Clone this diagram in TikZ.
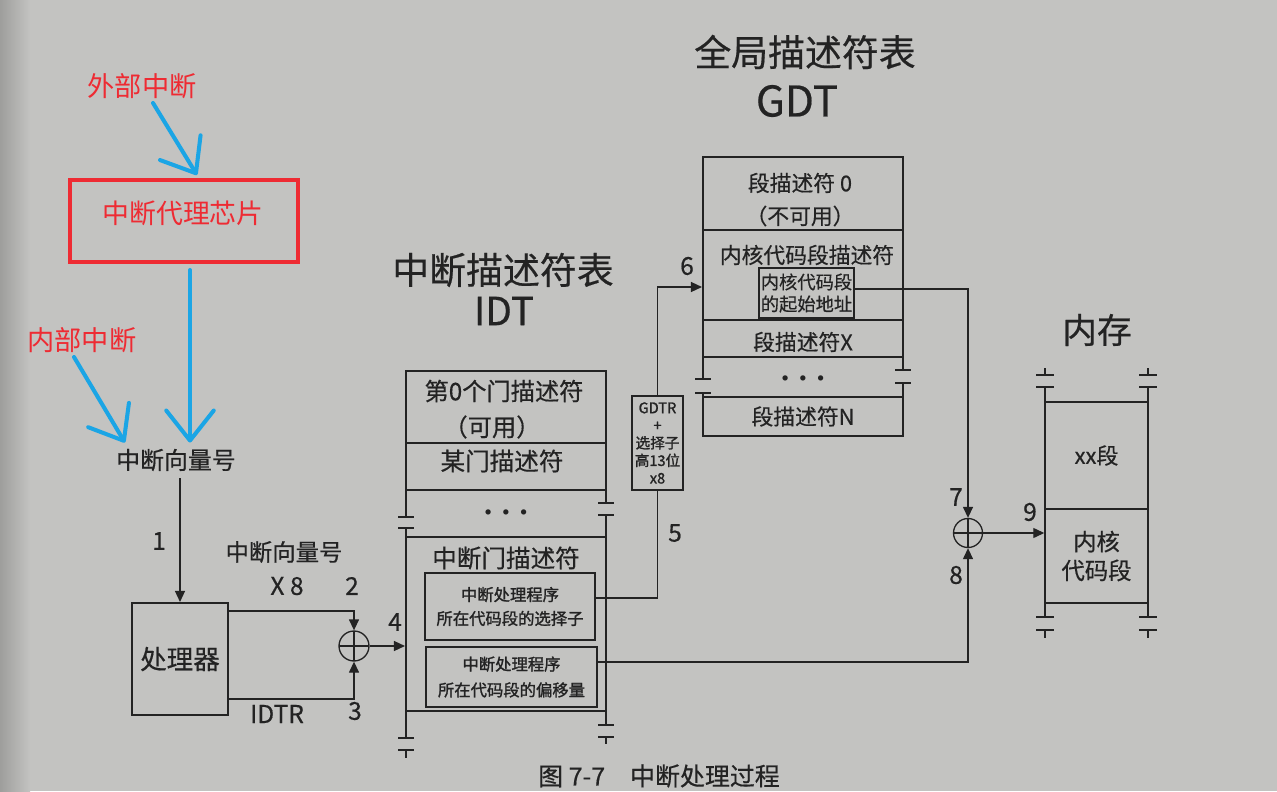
\documentclass[tikz,border=0pt]{standalone}
\usepackage{fontspec}
\setmainfont{Noto Sans CJK SC}[FakeBold=0.5]
\newfontfamily\plain{Noto Sans CJK SC}
\newfontfamily\heavy{Noto Sans CJK SC}[FakeBold=1.4]
\usetikzlibrary{arrows.meta}

\newcommand\fsz[1]{\fontsize{#1}{#1}\selectfont}

\definecolor{paper}{HTML}{C3C3C1}
\definecolor{paperedge}{HTML}{9E9E9C}
\definecolor{ink}{HTML}{232323}
\definecolor{mark}{HTML}{EE2B33}
\definecolor{pen}{HTML}{1BA5E5}

\tikzset{
  txt/.style={inner sep=0pt, text=ink, font=\fsz{#1}},
  redtxt/.style={inner sep=0pt, text=mark, font=\fsz{#1}\plain},
  tabline/.style={draw=ink, line width=1.2pt},
  memline/.style={draw=ink, line width=0.85pt},
  cell/.style={draw=ink, line width=1.2pt, inner sep=0pt, text=ink},
  subcell/.style={draw=ink, line width=0.85pt, inner sep=0pt, text=ink, align=center},
  wire/.style={draw=ink, line width=0.75pt},
  flow/.style={wire, -{Triangle[length=0.22cm,width=0.2cm]}},
  penarrow/.style={draw=pen, line width=2.3pt, line cap=round,
    -{Straight Barb[length=0.6cm,width=0.95cm,round]}},
  adder/.style={circle, draw=ink, line width=0.75pt, minimum size=#1, inner sep=0pt,
    path picture={\draw[ink, line width=0.75pt]
      (path picture bounding box.north) -- (path picture bounding box.south)
      (path picture bounding box.west) -- (path picture bounding box.east);}},
}

\begin{document}
\begin{tikzpicture}[x=0.02cm, y=-0.02cm]
\useasboundingbox (0,0) rectangle (1277,791);
\fill[paper] (0,0) rectangle (1277,791);
\shade[left color=paperedge, right color=paper] (0,0) rectangle (30,791);

% ---------- interrupt sources (hand annotations) ----------
\node[redtxt=15.5] (ext) at (142,86) {外部中断};
\node[draw=mark, line width=2.3pt, minimum width=4.56cm, minimum height=1.64cm, inner sep=0pt] (agent) at (184,221) {};
\node[redtxt=15.3] (agentlbl) at (183,213) {中断代理芯片};
\node[redtxt=15.5] (int) at (82,340) {内部中断};
\node[txt=13.6, inner ysep=4pt] (vec) at (176,460) {中断向量号};

\draw[penarrow] ([shift={(11,4)}]ext.south) -- ([shift={(13,-3)}]agent.north);
\draw[penarrow] ([shift={(6,6)}]agent.south) -- ([shift={(14,1)}]vec.north);
\draw[penarrow] ([shift={(-8,4)}]int.south) -- ([shift={(9,1)}]vec.north west);

% ---------- processor and address adder ----------
\node[cell, minimum width=1.92cm, minimum height=2.24cm, font=\fsz{15.1}] (proc) at (180,659) {处理器};
\draw[flow] (proc.north |- vec.south) -- (proc.north);
\node[txt=14] (l1) at (159,541) {1};

\node[adder=0.6cm] (add1) at (354,646) {};
\draw[flow] ([shift={(0,9)}]proc.north east) -| (add1.north);
\draw[flow] ([shift={(0,-17)}]proc.south east) -| (add1.south);
\node[txt=13.3] (vecx) at (284,552) {中断向量号};
\node[txt=14] (times8) at (287,586) {X 8};
\node[txt=14] (l2) at (352,586) {2};
\node[txt=14] (idtr) at (277,714) {IDTR};
\node[txt=14] (l3) at (355,711) {3};
\node[txt=14] (l4) at (395,622) {4};

% ---------- interrupt descriptor table ----------
\node[txt=21] (idttitle) at (503,270) {中断描述符表};
\node[txt=22] (idtname) at (504,311) {IDT};
\draw[tabline] (406,517) -- (406,371) -- (606,371) -- (606,503);
\draw[tabline] (406,443) -- (606,443) (406,490) -- (606,490);
\draw[tabline] (398,517) -- (414,517) (398,528) -- (414,528) (406,528) -- (406,537);
\draw[tabline] (598,503) -- (614,503) (598,515) -- (614,515) (606,515) -- (606,537);
\node[cell, minimum width=4cm, minimum height=3.48cm] (gate) at (506,624) {};
\draw[tabline] (406,711) -- (406,738) (398,738) -- (414,738) (398,750) -- (414,750) (406,750) -- (406,758);
\draw[tabline] (606,711) -- (606,725) (598,725) -- (614,725) (598,737) -- (614,737) (606,737) -- (606,744);

\node[txt=13.8] (g0) at (504,391) {第0个门描述符};
\node[txt=13.8] (g0note) at (492,427) {（可用）};
\node[txt=14] (g1) at (502,461) {某门描述符};
\node[txt=7.5] (gdots) at (506,513) {$\bullet\hspace{4.2pt}\bullet\hspace{4.2pt}\bullet$};
\node[txt=14] (gatename) at (506,558) {中断门描述符};
\node[subcell, minimum width=3.4cm, minimum height=1.34cm,
      font=\fontsize{9.3}{13.6}\selectfont\heavy] (sel) at (510,606.5) {中断处理程序\\所在代码段的选择子};
\node[subcell, minimum width=3.42cm, minimum height=1.2cm,
      font=\fontsize{9.3}{14.7}\selectfont\heavy] (offset) at (511.5,677) {中断处理程序\\所在代码段的偏移量};
\draw[flow] (add1.east) -- (add1.east -| gate.west);

% ---------- GDTR + selector ----------
\node[subcell, minimum width=1.02cm, minimum height=1.88cm,
      font=\fontsize{8.3}{10}\selectfont\heavy] (gdtr) at (657.5,443) {GDTR\\+\\选择子\\高13位\\x8};
\draw[wire] ([shift={(0,-8.5)}]sel.east) -| (gdtr.south);
\node[txt=14] (l5) at (675,533) {5};

% ---------- global descriptor table ----------
\node[txt=21] (gdttitle) at (805,52) {全局描述符表};
\node[txt=24] (gdtname) at (797,101) {GDT};
\draw[tabline] (703,379) -- (703,157) -- (903,157) -- (903,370);
\node[cell, minimum width=4cm, minimum height=1.8cm] (kdesc) at (803,275) {};
\draw[tabline] (703,357) -- (903,357);
\draw[tabline] (695,379) -- (711,379) (695,393) -- (711,393) (703,393) -- (703,397);
\draw[tabline] (895,370) -- (911,370) (895,383) -- (911,383) (903,383) -- (903,397);
\node[cell, minimum width=4cm, minimum height=0.78cm, font=\fsz{12.4}] (segN) at (803,416.5) {段描述符N};

\node[txt=12.4] (seg0) at (800,183) {段描述符 0};
\node[txt=12.4] (seg0note) at (800,216) {（不可用）};
\node[txt=12.4] (kname) at (807,255) {内核代码段描述符};
\node[subcell, minimum width=1.9cm, minimum height=1.0cm,
      font=\fontsize{10.4}{12.5}\selectfont] (kbase) at (806.5,293) {内核代码段\\的起始地址};
\node[txt=12.4] (segX) at (803,342) {段描述符X};
\node[txt=7.5] (sdots) at (803,379) {$\bullet\hspace{4.2pt}\bullet\hspace{4.2pt}\bullet$};

\draw[flow] (gdtr.north) |- ([shift={(0,12)}]kdesc.west);
\node[txt=14] (l6) at (687,266) {6};

% ---------- linear address adder ----------
\node[adder=0.58cm] (add2) at (968,533) {};
\draw[flow] ([shift={(0,-4)}]kbase.east) -| (add2.north);
\draw[flow] ([shift={(0,-15)}]offset.east) -| (add2.south);
\node[txt=14] (l7) at (956,497) {7};
\node[txt=14] (l8) at (956,575) {8};

% ---------- memory ----------
\node[txt=19.8] (memtitle) at (1097,330) {内存};
\node[draw=ink, line width=0.85pt, minimum width=2.06cm, minimum height=2.14cm, inner sep=0pt,
      font=\fsz{12.5}, text=ink] (memxx) at (1096.5,455.5) {xx段};
\node[draw=ink, line width=0.85pt, minimum width=2.06cm, minimum height=1.88cm, inner sep=0pt,
      align=center, font=\fontsize{13.3}{16.4}\selectfont, text=ink] (memk) at (1096.5,556) {内核\\代码段};
\foreach \mx in {1045,1148} {
  \draw[memline] (\mx,368) -- (\mx,375) (\mx-9,375) -- (\mx+9,375)
                 (\mx-9,387) -- (\mx+9,387) (\mx,387) -- (\mx,402)
                 (\mx,603) -- (\mx,617) (\mx-9,617) -- (\mx+9,617)
                 (\mx-9,630) -- (\mx+9,630) (\mx,630) -- (\mx,638);
}
\draw[flow] (add2.east) -- (add2.east -| memk.west);
\node[txt=14] (l9) at (1030,512) {9};

% ---------- caption ----------
\node[txt=14.2] (caption) at (659,776) {图 7-7\quad 中断处理过程};
\end{tikzpicture}
\end{document}
